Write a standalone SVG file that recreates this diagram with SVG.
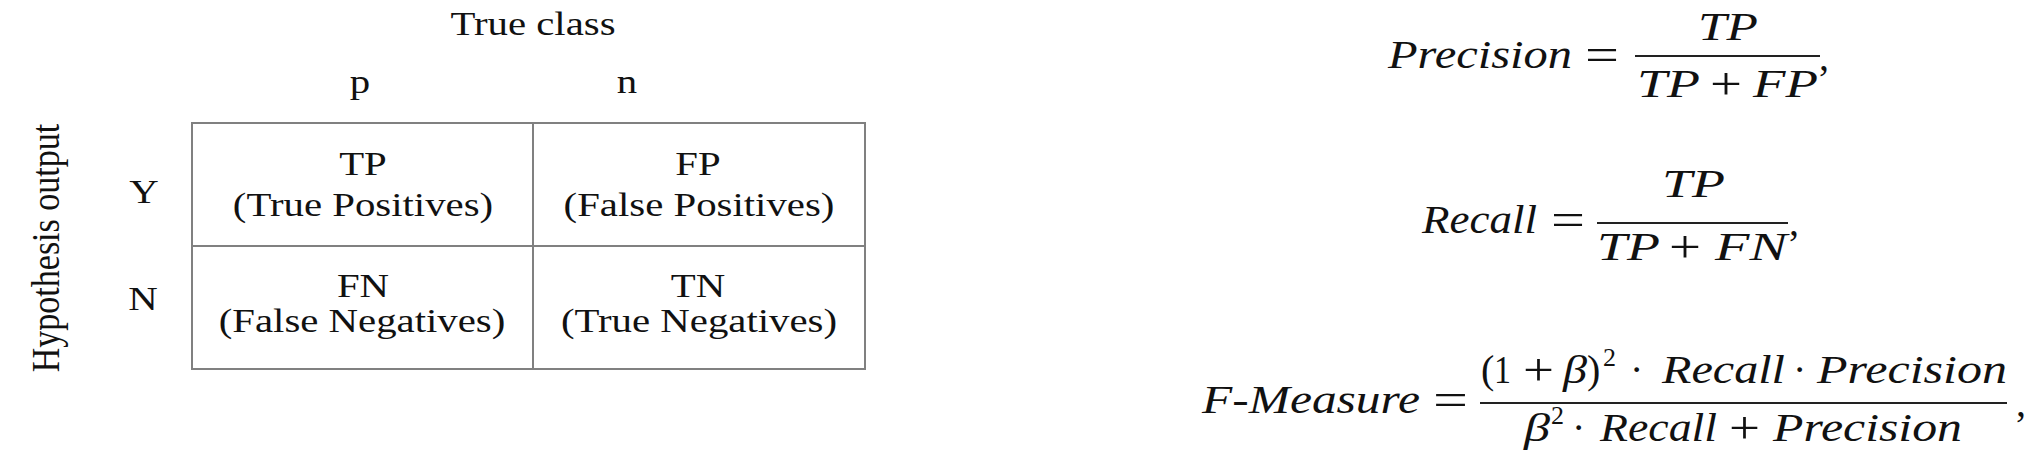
<svg xmlns="http://www.w3.org/2000/svg" width="2040" height="462" viewBox="0 0 2040 462">
<style>
.t{font-family:"Liberation Serif","Times New Roman",serif;font-size:34px;fill:#111;text-anchor:middle}
.m{font-family:"Liberation Serif","Times New Roman",serif;font-size:40px;font-style:italic;fill:#111}
.u{font-family:"Liberation Serif","Times New Roman",serif;font-size:40px;fill:#111}
.op{font-family:"Liberation Serif","Times New Roman",serif;font-size:46px;fill:#111}
.s{font-family:"Liberation Serif","Times New Roman",serif;font-size:26px;fill:#111}
.grid{fill:none;stroke:#808080;stroke-width:2}
.bar{stroke:#222;stroke-width:2}
</style>
<rect width="2040" height="462" fill="#fff"/>
<g id="headers">
<text class="t" transform="translate(533 35) scale(1.2 1)">True class</text>
<text class="t" transform="translate(360 93) scale(1.2 1)">p</text>
<text class="t" transform="translate(627 93) scale(1.2 1)">n</text>
<text class="t" transform="translate(144 203) scale(1.2 1)">Y</text>
<text class="t" transform="translate(143 310) scale(1.2 1)">N</text>
<text class="t" transform="translate(59 248) scale(1.2 1) rotate(-90)">Hypothesis output</text>
</g>
<g id="grid">
<rect class="grid" x="192" y="123" width="673" height="246"/>
<line class="grid" x1="533" y1="123" x2="533" y2="369"/>
<line class="grid" x1="192" y1="246" x2="865" y2="246"/>
</g>
<g id="cell-tp">
<text class="t" transform="translate(363 175) scale(1.2 1)">TP</text>
<text class="t" transform="translate(363 216) scale(1.2 1)">(True Positives)</text>
</g>
<g id="cell-fp">
<text class="t" transform="translate(698 175) scale(1.2 1)">FP</text>
<text class="t" transform="translate(699 216) scale(1.2 1)">(False Positives)</text>
</g>
<g id="cell-fn">
<text class="t" transform="translate(363 297) scale(1.2 1)">FN</text>
<text class="t" transform="translate(362 332) scale(1.2 1)">(False Negatives)</text>
</g>
<g id="cell-tn">
<text class="t" transform="translate(698 297) scale(1.2 1)">TN</text>
<text class="t" transform="translate(699 332) scale(1.2 1)">(True Negatives)</text>
</g>
<g id="formula-precision">
<text class="m" x="1388" y="68" textLength="184" lengthAdjust="spacingAndGlyphs">Precision</text>
<text class="op" x="1585" y="70" textLength="34" lengthAdjust="spacingAndGlyphs">=</text>
<line class="bar" x1="1635" y1="56" x2="1820" y2="56"/>
<text class="m" x="1698" y="40" textLength="60" lengthAdjust="spacingAndGlyphs">TP</text>
<text class="m" x="1637" y="97" textLength="63" lengthAdjust="spacingAndGlyphs">TP</text>
<text class="op" x="1710" y="99" textLength="32" lengthAdjust="spacingAndGlyphs">+</text>
<text class="m" x="1753" y="97" textLength="65" lengthAdjust="spacingAndGlyphs">FP</text>
<text class="u" x="1819" y="70">,</text>
</g>
<g id="formula-recall">
<text class="m" x="1422" y="233" textLength="115" lengthAdjust="spacingAndGlyphs">Recall</text>
<text class="op" x="1551" y="235" textLength="34" lengthAdjust="spacingAndGlyphs">=</text>
<line class="bar" x1="1597" y1="223" x2="1788" y2="223"/>
<text class="m" x="1662" y="197" textLength="63" lengthAdjust="spacingAndGlyphs">TP</text>
<text class="m" x="1597" y="260" textLength="63" lengthAdjust="spacingAndGlyphs">TP</text>
<text class="op" x="1669" y="262" textLength="32" lengthAdjust="spacingAndGlyphs">+</text>
<text class="m" x="1715" y="260" textLength="72" lengthAdjust="spacingAndGlyphs">FN</text>
<text class="u" x="1789" y="235">,</text>
</g>
<g id="formula-fmeasure">
<text class="m" x="1202" y="413" textLength="218" lengthAdjust="spacingAndGlyphs">F-Measure</text>
<text class="op" x="1433" y="415" textLength="35" lengthAdjust="spacingAndGlyphs">=</text>
<line class="bar" x1="1480" y1="403" x2="2007" y2="403"/>
<text class="u" x="1481" y="383">(</text>
<text class="u" x="1494" y="383" textLength="17" lengthAdjust="spacingAndGlyphs">1</text>
<text class="op" x="1523" y="385" textLength="31" lengthAdjust="spacingAndGlyphs">+</text>
<text class="m" x="1563" y="383" textLength="24" lengthAdjust="spacingAndGlyphs">β</text>
<text class="u" x="1587" y="383">)</text>
<text class="s" x="1603" y="366">2</text>
<text class="u" x="1630" y="383">·</text>
<text class="m" x="1662" y="383" textLength="123" lengthAdjust="spacingAndGlyphs">Recall</text>
<text class="u" x="1793" y="383">·</text>
<text class="m" x="1817" y="383" textLength="190" lengthAdjust="spacingAndGlyphs">Precision</text>
<text class="m" x="1524" y="441" textLength="26" lengthAdjust="spacingAndGlyphs">β</text>
<text class="s" x="1551" y="424">2</text>
<text class="u" x="1572" y="441">·</text>
<text class="m" x="1600" y="441" textLength="117" lengthAdjust="spacingAndGlyphs">Recall</text>
<text class="op" x="1729" y="443" textLength="31" lengthAdjust="spacingAndGlyphs">+</text>
<text class="m" x="1773" y="441" textLength="189" lengthAdjust="spacingAndGlyphs">Precision</text>
<text class="u" x="2016" y="416">,</text>
</g>
</svg>
